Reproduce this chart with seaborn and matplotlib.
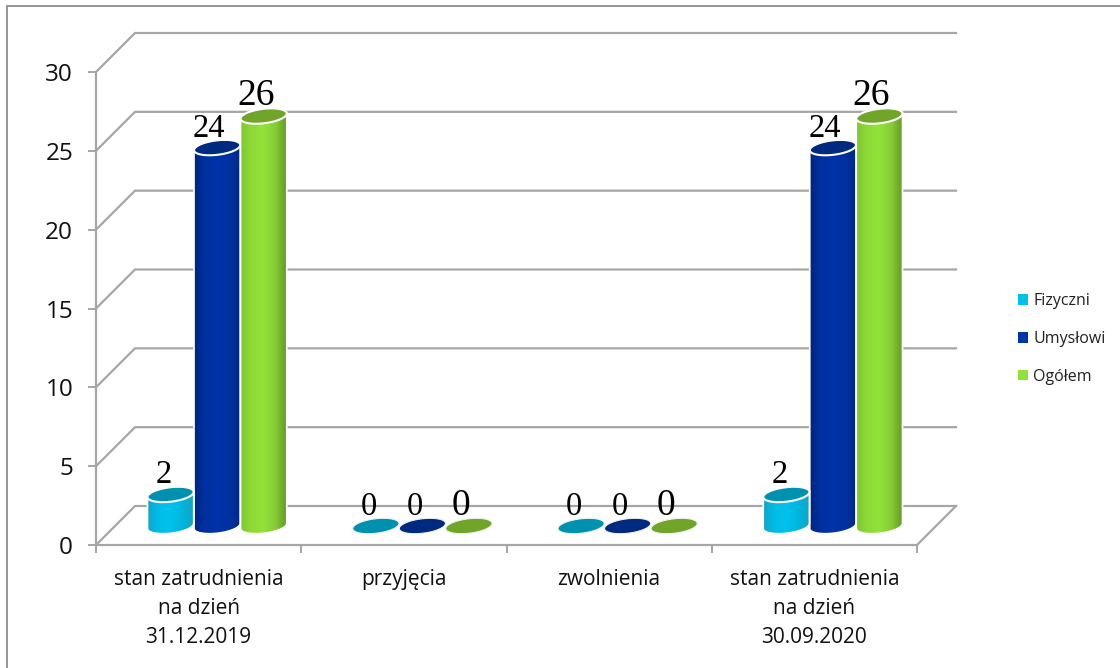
import numpy as np
import pandas as pd
import matplotlib
matplotlib.use("Agg")
import matplotlib.pyplot as plt
from matplotlib.colors import LinearSegmentedColormap
from matplotlib.lines import Line2D
from matplotlib.patches import Polygon
import seaborn as sns

categories = ["stan zatrudnienia\nna dzień\n31.12.2019", "przyjęcia", "zwolnienia",
              "stan zatrudnienia\nna dzień\n30.09.2020"]
fizyczni = [2, 0, 0, 2]
umyslowi = [24, 0, 0, 24]
ogolem = [26, 0, 0, 26]
series_names = ["Fizyczni", "Umysłowi", "Ogółem"]
y_ticks = [0, 5, 10, 15, 20, 25, 30]

base_colors = ["#00c0ea", "#0033a6", "#92e03a"]
top_colors = ["#0090b0", "#002a80", "#70a52a"]
gradients = [["#1b9dbd", "#00bce6", "#00c2ec", "#00b4dc", "#1c9fbe"],
             ["#00237c", "#0030a0", "#0034aa", "#0030a0", "#00287f"],
             ["#7cc232", "#8ed938", "#93e23a", "#86ca34", "#5f8f26"]]
label_sizes = [23.5, 23.5, 27]
label_dx = [-7, -8, -8]

W, H = 1120, 668
GREY = "#a6a6a6"
plt.rcParams["font.family"] = ["Open Sans", "DejaVu Sans"]
fig = plt.figure(figsize=(W / 100, H / 100), dpi=100)
fig.patch.set_facecolor("white")

fig.add_artist(Line2D([7 / W, 7 / W, 1], [0, 1 - 6 / H, 1 - 6 / H], transform=fig.transFigure,
                      color="#8c8c8c", lw=1.3, solid_joinstyle="miter"))


def px_axes(left, right, top, bottom):
    return fig.add_axes([left / W, 1 - bottom / H, (right - left) / W, (bottom - top) / H])


# front plane: real axes with ticks
ax = px_axes(96, 917, 72, 545)
ax.set_xlim(-0.5, 3.5)
ax.set_ylim(0, 30)
ax.patch.set_visible(False)
ax.set_zorder(1)
ppx = (917 - 96) / 4
ppy = (545 - 72) / 30
depth_x, depth_y = 39 / ppx, 39 / ppy

for s in ["top", "right"]:
    ax.spines[s].set_visible(False)
for s in ["left", "bottom"]:
    ax.spines[s].set_color(GREY)
    ax.spines[s].set_linewidth(1.6)

ax.set_yticks(y_ticks)
ax.set_xticks(range(4))
ax.set_xticklabels(categories, fontsize=15, linespacing=1.5, color="#111111")
ax.set_xticks([-0.5, 0.5, 1.5, 2.5, 3.5], minor=True)
ax.tick_params(axis="x", which="major", length=0, pad=17)
ax.tick_params(axis="x", which="minor", length=6, width=1.4, color=GREY)
ax.tick_params(axis="y", length=6, width=1.4, color=GREY, labelsize=17.5, pad=10.5, labelcolor="#111111")

for v in y_ticks:
    ax.plot([-0.5, -0.5 + depth_x, 3.5 + depth_x], [v, v + depth_y, v + depth_y],
            color=GREY, lw=1.6, clip_on=False, solid_joinstyle="miter")
ax.plot([3.5, 3.5 + depth_x], [0, depth_y], color=GREY, lw=1.6, clip_on=False)

# middle plane: the cylinders
ax_mid = px_axes(96 + 18.5, 917 + 18.5, 72 - 19, 545 - 19)
ax_mid.set_zorder(2)
ax_mid.patch.set_visible(False)

df = pd.DataFrame({
    "kategoria": categories * 3,
    "seria": np.repeat(series_names, 4),
    "wartosc": fizyczni + umyslowi + ogolem,
})
sns.barplot(data=df, x="kategoria", y="wartosc", hue="seria", hue_order=series_names,
            palette=base_colors, saturation=1, width=0.68, gap=0, ax=ax_mid, legend=True,
            errorbar=None)
handles, labels = ax_mid.get_legend_handles_labels()
ax_mid.get_legend().remove()
ax_mid.set_xlim(-0.5, 3.5)
ax_mid.set_ylim(0, 30)
ax_mid.axis("off")

tilt = np.deg2rad(7)
b_px = 7.2


def ellipse_xy(cx, v, a_px, t):
    ex = a_px * np.cos(t)
    ey = b_px * np.sin(t)
    xp = ex * np.cos(tilt) - ey * np.sin(tilt)
    yp = ex * np.sin(tilt) + ey * np.cos(tilt)
    return cx + xp / ppx, v + yp / ppy


t0 = np.arctan2(-b_px * np.sin(tilt), 23 * np.cos(tilt))
for si, container in enumerate(ax_mid.containers):
    cmap = LinearSegmentedColormap.from_list("g", gradients[si])
    for bar in container:
        cx = bar.get_x() + bar.get_width() / 2
        v = bar.get_height()
        a_px = bar.get_width() * ppx / 2
        t_full = np.linspace(0, 2 * np.pi, 90)
        if v > 0:
            tb = np.linspace(np.pi + t0, 2 * np.pi + t0, 40)
            xb, yb = ellipse_xy(cx, 0, a_px, tb)
            tt = np.linspace(t0, np.pi + t0, 40)
            xt, yt = ellipse_xy(cx, v, a_px, tt)
            poly = Polygon(np.column_stack([np.r_[xb, xt], np.r_[yb, yt]]), closed=True,
                           transform=ax_mid.transData, fc="none", ec="white", lw=1.2, zorder=3)
            ax_mid.add_patch(poly)
            poly.set_clip_on(False)
            bar.set_clip_path(poly)
            im = ax_mid.imshow(np.linspace(0, 1, 64)[None, :], cmap=cmap, aspect="auto",
                               extent=[cx - a_px / ppx - 0.01, cx + a_px / ppx + 0.01,
                                       -10 / ppy, v + 10 / ppy],
                               interpolation="bilinear", zorder=2.5)
            im.set_clip_box(fig.bbox)
            im.set_clip_path(poly)
        xe, ye = ellipse_xy(cx, v, a_px, t_full)
        top = Polygon(np.column_stack([xe, ye]), closed=True, fc=top_colors[si],
                      ec="white" if v > 0 else "#eef2ee", lw=1.5 if v > 0 else 0.8, zorder=4, clip_on=False)
        ax_mid.add_patch(top)
        ax_mid.annotate(str(int(v)), (cx, v), xytext=(label_dx[si], 11), textcoords="offset pixels",
                        ha="center", va="baseline", family="Liberation Serif", fontsize=label_sizes[si],
                        color="black", zorder=5, annotation_clip=False)
ax_mid.set_xlim(-0.5, 3.5)
ax_mid.set_ylim(0, 30)

leg = fig.legend(handles, labels, loc="center left", bbox_to_anchor=(1018 / W, 1 - 339 / H),
                 frameon=False, fontsize=11.5, labelspacing=1.37, handlelength=0.62,
                 handleheight=0.62, handletextpad=0.32, borderpad=0, borderaxespad=0,
                 labelcolor="#222222")

fig.savefig("out.png", dpi=100)
